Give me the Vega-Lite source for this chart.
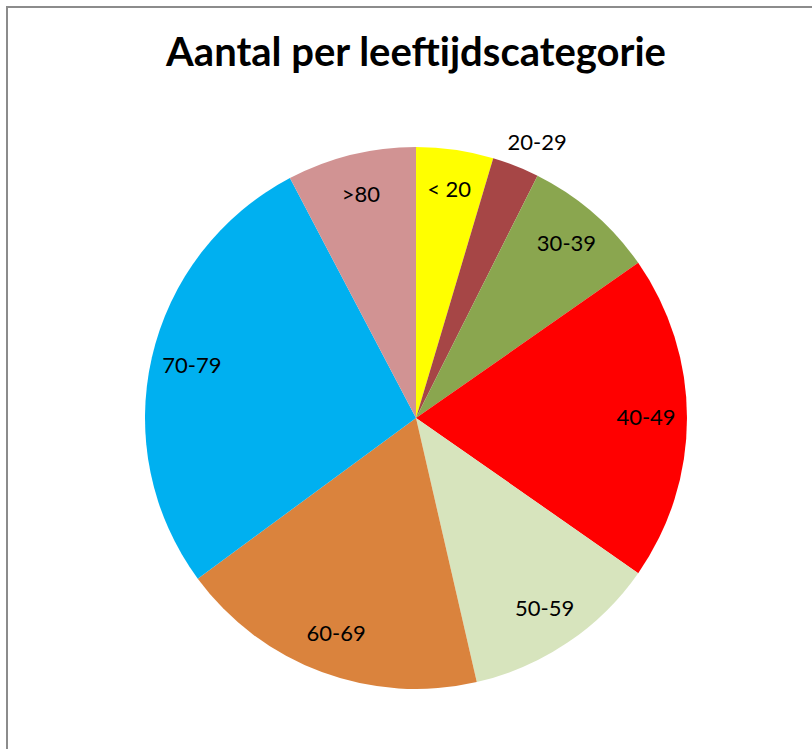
{
  "$schema": "https://vega.github.io/schema/vega-lite/v6.json",
  "autosize": "none",
  "width": 818,
  "height": 822,
  "padding": {"left": 7, "top": 7, "right": 0, "bottom": 0},
  "background": "white",
  "view": {"stroke": "#8c8c8c", "strokeWidth": 2, "fill": "white"},
  "config": {"view": {"stroke": "#8c8c8c", "strokeWidth": 2}},
  "title": {
    "text": "Aantal per leeftijdscategorie",
    "font": "Lato",
    "fontSize": 40,
    "fontWeight": "bold",
    "color": "#000000",
    "anchor": "middle",
    "offset": -67
  },
  "data": {
    "values": [
      {"cat": "< 20", "n": 46},
      {"cat": "20-29", "n": 28},
      {"cat": "30-39", "n": 79},
      {"cat": "40-49", "n": 194},
      {"cat": "50-59", "n": 117},
      {"cat": "60-69", "n": 185},
      {"cat": "70-79", "n": 274},
      {"cat": ">80", "n": 77}
    ]
  },
  "transform": [{"window": [{"op": "row_number", "as": "idx"}]}],
  "encoding": {
    "theta": {"field": "n", "type": "quantitative", "stack": true},
    "order": {"field": "idx", "type": "quantitative", "sort": "ascending"}
  },
  "layer": [
    {
      "mark": {"type": "arc", "outerRadius": 271},
      "encoding": {
        "color": {
          "field": "cat",
          "type": "nominal",
          "legend": null,
          "scale": {
            "domain": ["< 20", "20-29", "30-39", "40-49", "50-59", "60-69", "70-79", ">80"],
            "range": ["#FFFF00", "#A64646", "#8AA64F", "#FF0000", "#D7E4BD", "#DA833D", "#00B0F0", "#D19393"]
          }
        }
      }
    },
    {
      "mark": {"type": "text", "radius": 230, "font": "Lato", "fontSize": 22, "color": "#000000", "align": "center", "baseline": "middle"},
      "encoding": {
        "text": {"condition": {"test": "datum.cat === '20-29'", "value": ""}, "field": "cat"}
      }
    },
    {
      "mark": {"type": "text", "radius": 302, "dx": 10, "dy": 6, "font": "Lato", "fontSize": 22, "color": "#000000", "align": "center", "baseline": "middle"},
      "encoding": {
        "text": {"condition": {"test": "datum.cat === '20-29'", "field": "cat"}, "value": ""}
      }
    }
  ]
}
